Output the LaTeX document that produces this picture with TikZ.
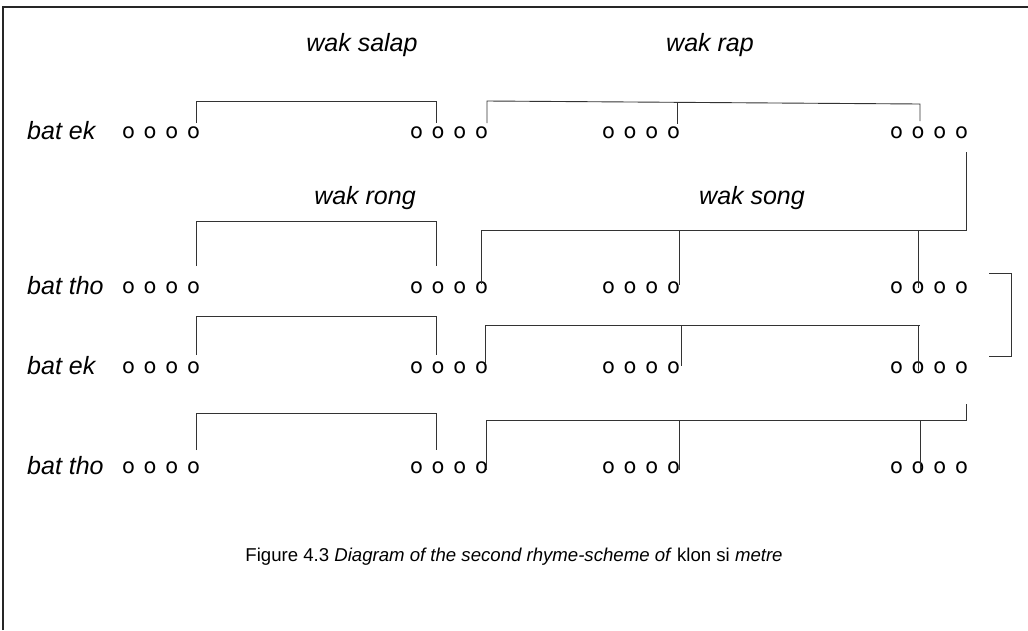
\documentclass[tikz,border=0pt]{standalone}
\usepackage{fontspec}
\setmainfont{Liberation Sans}
\newfontfamily\odfont{DejaVu Sans}
\begin{document}
\begin{tikzpicture}[x=1pt,y=-1pt,
  odot/.style={font=\odfont\fontsize{21}{21}\selectfont, inner sep=0pt, anchor=center},
  lab/.style={font=\fontsize{25}{27}\selectfont\itshape, inner sep=0pt},
  brk/.style={line width=0.9pt, draw=black!80},
  frame/.style={line width=1.3pt, draw=black!85}]
\useasboundingbox (0,0) rectangle (1028,630);
\draw[frame] (3,630) -- (3,7) -- (1028,7);
% o groups
\foreach \r/\y in {1/133,2/288,3/368,4/468} {
  \foreach \g/\cx in {1/161,2/449,3/641,4/929} {
    \foreach \k in {1,...,4} {
      \node[odot] (o\r\g\k) at ({\cx+(\k-2.5)*21.7}, \y) {o};
    }
  }
}
% row labels
\node[lab, anchor=base west] (l1) at (27,139) {bat ek};
\node[lab, anchor=base west] (l2) at (27,294) {bat tho};
\node[lab, anchor=base west] (l3) at (27,374) {bat ek};
\node[lab, anchor=base west] (l4) at (27,474) {bat tho};
% top labels
\node[lab] (wsalap) at (362,45) {wak salap};
\node[lab] (wrap) at (710,45) {wak rap};
\node[lab] (wrong) at (365,198) {wak rong};
\node[lab] (wsong) at (752,198) {wak song};
% row 1
\draw[brk] (196,123) -- (196,101) -- (436,101) -- (436,123);
\draw[brk] (487,123) -- (487,101) -- (920,104) -- (920,121);
\draw[brk] (677,103) -- (677,124);
% link row1 -> row2
\draw[brk] (966,152) -- (966,230) -- (481,230) -- (481,284);
\draw[brk] (679,230) -- (679,285);
\draw[brk] (918,230) -- (918,288);
% row 2
\draw[brk] (196,266) -- (196,221) -- (436,221) -- (436,266);
% right bracket
\draw[brk] (989,273) -- (1011,273) -- (1011,356) -- (989,356);
% row 3
\draw[brk] (196,355) -- (196,316) -- (436,316) -- (436,355);
\draw[brk] (485,364) -- (485,325) -- (920,325);
\draw[brk] (681,325) -- (681,366);
\draw[brk] (918,325) -- (918,371);
% row 4
\draw[brk] (196,450) -- (196,413) -- (436,413) -- (436,450);
\draw[brk] (966,404) -- (966,420);
\draw[brk] (486,470) -- (486,420) -- (967,420);
\draw[brk] (679,420) -- (679,470);
\draw[brk] (920,420) -- (920,471);
% caption
\node[font=\fontsize{18.6}{20}\selectfont, inner sep=0pt] (cap) at (514,557)
  {Figure 4.3 \textit{Diagram of the second rhyme-scheme of} klon si \textit{metre}};
\end{tikzpicture}
\end{document}
